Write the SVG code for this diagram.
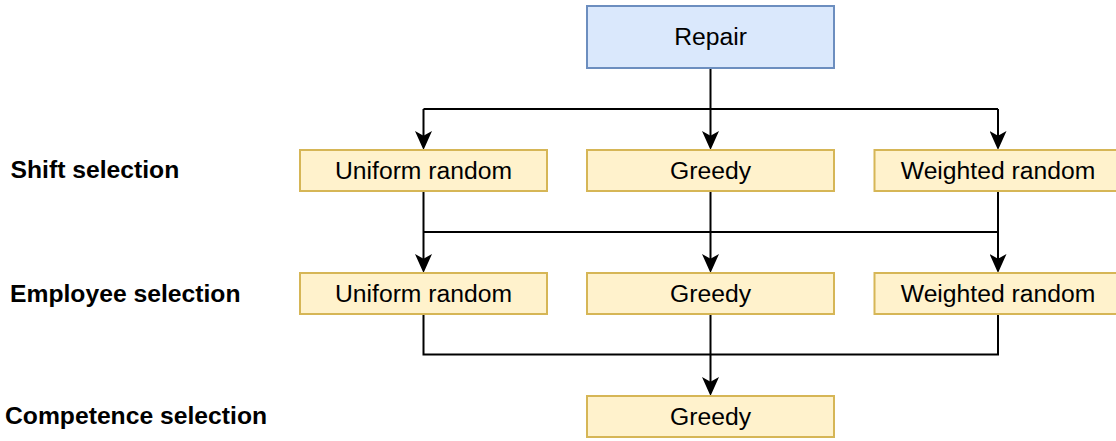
<svg xmlns="http://www.w3.org/2000/svg" width="1116" height="441" viewBox="0 0 1116 441">
  <style>
    .root { fill: #dae8fc; stroke: #6c8ebf; stroke-width: 2; }
    .opt { fill: #fff2cc; stroke: #d6b656; stroke-width: 2; }
    .t { font-family: "Liberation Sans", Arial, Helvetica, sans-serif; font-size: 24.7px; fill: #000; text-anchor: middle; }
    .lbl { font-family: "Liberation Sans", Arial, Helvetica, sans-serif; font-size: 24.7px; font-weight: bold; fill: #000; }
    .edge { fill: none; stroke: #000; stroke-width: 2; }
  </style>
  <defs>
    <marker id="arrow" markerUnits="userSpaceOnUse" viewBox="0 0 19 17" refX="9" refY="8.5" markerWidth="19" markerHeight="17" orient="auto">
      <path d="M0,0 L19,8.5 L0,17 L4.75,8.5 Z" fill="#000"/>
    </marker>
  </defs>

  <rect width="1116" height="441" fill="#fff"/>

  <!-- level labels -->
  <g id="labels">
    <text class="lbl" x="10.5" y="177.5">Shift selection</text>
    <text class="lbl" x="10" y="301.5">Employee selection</text>
    <text class="lbl" x="5" y="424">Competence selection</text>
  </g>

  <!-- connectors -->
  <g id="connectors">
    <path class="edge" d="M710.5,68 V140" marker-end="url(#arrow)"/>
    <path class="edge" d="M423.5,109 H998 M423.5,109 V140" marker-end="url(#arrow)"/>
    <path class="edge" d="M998,109 V140" marker-end="url(#arrow)"/>

    <path class="edge" d="M423.5,191 V263" marker-end="url(#arrow)"/>
    <path class="edge" d="M710.5,191 V263" marker-end="url(#arrow)"/>
    <path class="edge" d="M998,191 V263" marker-end="url(#arrow)"/>
    <path class="edge" d="M423.5,232 H998"/>

    <path class="edge" d="M423.5,314 V354.5 H998 V314"/>
    <path class="edge" d="M710.5,314 V386" marker-end="url(#arrow)"/>
  </g>

  <!-- nodes -->
  <g id="repair">
    <rect class="root" x="587" y="6" width="247" height="62"/>
    <text class="t" x="710.5" y="45">Repair</text>
  </g>

  <g id="shift-uniform">
    <rect class="opt" x="300" y="150" width="247" height="41"/>
    <text class="t" x="423.5" y="179">Uniform random</text>
  </g>
  <g id="shift-greedy">
    <rect class="opt" x="587" y="150" width="247" height="41"/>
    <text class="t" x="710.5" y="179">Greedy</text>
  </g>
  <g id="shift-weighted">
    <rect class="opt" x="874.5" y="150" width="247" height="41"/>
    <text class="t" x="998" y="179">Weighted random</text>
  </g>

  <g id="employee-uniform">
    <rect class="opt" x="300" y="273" width="247" height="41"/>
    <text class="t" x="423.5" y="302">Uniform random</text>
  </g>
  <g id="employee-greedy">
    <rect class="opt" x="587" y="273" width="247" height="41"/>
    <text class="t" x="710.5" y="302">Greedy</text>
  </g>
  <g id="employee-weighted">
    <rect class="opt" x="874.5" y="273" width="247" height="41"/>
    <text class="t" x="998" y="302">Weighted random</text>
  </g>

  <g id="competence-greedy">
    <rect class="opt" x="587" y="396" width="247" height="41"/>
    <text class="t" x="710.5" y="425">Greedy</text>
  </g>
</svg>
